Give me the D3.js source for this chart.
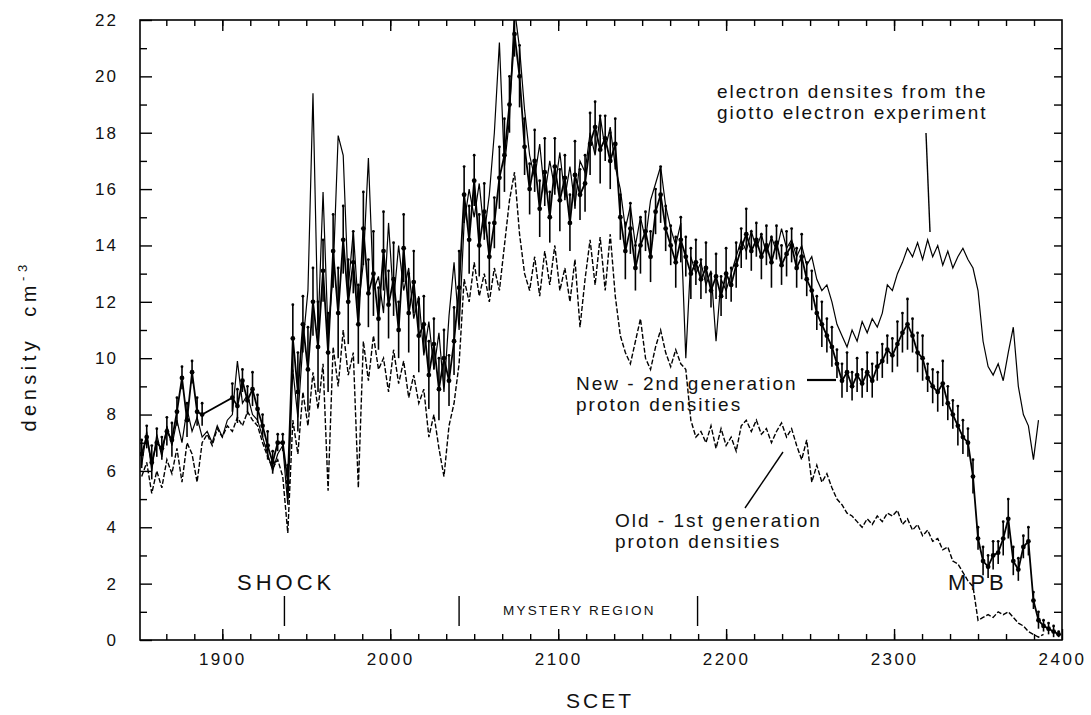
<!DOCTYPE html>
<html>
<head>
<meta charset="utf-8">
<script src="https://cdn.jsdelivr.net/npm/d3@7"></script>
<style>
  body { margin: 0; background: #fff; }
  svg text { font-family: "Liberation Sans", Arial, sans-serif; fill: #111; }
  .frame { fill: none; stroke: #000; stroke-width: 1.6px; }
  .tick line { stroke: #000; stroke-width: 1.4px; }
  .domain { display: none; }
</style>
</head>
<body>
<svg id="chart" width="1091" height="715"></svg>
<script>
var scetStart = 1852, scetStep = 3;

// electron densities (giotto electron experiment), thin solid line
var electron = [
  6.2, 7.4, 6.0, 7.3, 6.5, 7.6, 6.9, 7.8, 7.0, 8.2,
  7.4, 7.9, 7.2, 7.4, 7.0, 7.6, 7.2, 7.8, 8.0, 9.9,
  8.4, 8.7, 8.0, 7.8, 7.2, 6.6, 6.0, 6.6, 6.9, 4.8,
  9.6, 7.9, 10.5, 12.4, 19.4, 11.0, 15.9, 10.8, 13.0, 17.9,
  17.2, 12.5, 14.5, 11.8, 13.4, 17.1, 12.4, 12.9, 11.6, 14.8,
  12.0, 14.0, 12.4, 13.2, 11.4, 12.2, 10.1, 11.3, 9.6, 10.9,
  8.8, 11.5, 13.4, 11.0, 14.8, 16.0, 15.0, 16.2, 14.4, 15.8,
  18.0, 21.2, 16.8, 18.5, 22.4, 21.0, 18.8, 17.2, 16.4, 17.6,
  15.8, 17.0, 16.0, 17.3, 15.7, 16.8, 15.4, 17.0, 16.6, 18.0,
  17.2, 18.6, 17.4, 18.2, 16.8, 16.0, 14.6, 15.4, 14.0, 15.0,
  14.2, 15.6, 16.2, 16.8, 15.4, 14.6, 14.0, 14.8, 10.0, 13.6,
  13.0, 13.4, 12.6, 13.1, 10.6, 12.8, 12.4, 13.0, 13.6, 14.2,
  13.8, 14.5, 13.9, 14.4, 13.7, 14.3, 13.8, 14.6, 13.9, 14.2,
  13.6, 14.0, 13.3, 13.6, 12.8, 12.4, 12.6, 12.0, 11.2, 10.8,
  10.4, 11.0, 10.6, 11.3, 10.9, 11.4, 11.1, 11.6, 12.6, 12.4,
  13.0, 13.4, 13.9, 13.6, 14.1, 13.5, 14.2, 13.6, 14.0, 13.3,
  13.8, 13.2, 13.6, 13.9, 13.5, 13.2, 12.4, 10.6, 9.7, 9.4,
  9.8, 9.2, 10.2, 11.1, 9.0, 8.0, 7.6, 6.4, 7.8, null,
  null, null, null
];

// new - 2nd generation proton densities (dots + error bars), null = no data
var protonNew = [
  6.6, 7.2, 6.3, 7.0, 6.8, 7.4, 7.1, 8.1, 9.3, 7.8,
  9.5, 8.1, 8.0, null, null, null, null, null, 8.6, 8.3,
  9.2, 8.5, 8.9, 8.2, 7.6, 6.9, 6.3, 7.0, 7.0, 5.6,
  10.7, 8.8, 11.2, 9.6, 12.0, 10.4, 13.1, 10.2, 13.8, 11.6,
  14.2, 12.0, 13.4, 11.2, 14.6, 12.3, 13.0, 11.4, 13.8, 11.9,
  12.8, 11.0, 13.9, 11.6, 12.7, 10.8, 11.2, 9.4, 10.5, 8.9,
  10.0, 9.2, 10.6, 12.5, 15.8, 14.2, 16.3, 14.0, 15.2, 13.6,
  14.8, 16.4, 17.2, 19.0, 21.5, 20.0, 17.5, 16.0, 17.0, 15.3,
  16.6, 15.0, 16.8, 15.6, 16.4, 14.8, 16.5, 15.8, 16.2, 17.6,
  18.2, 17.4, 17.8, 17.0, 17.6, 15.0, 13.8, 14.6, 13.2, 14.0,
  14.5, 13.6, 15.2, 15.8, 14.6, 14.0, 13.4, 14.2, 13.6, 13.0,
  13.4, 12.8, 13.2, 12.4, 12.9, 12.2, 13.0, 12.6, 13.3, 13.9,
  14.4, 13.8, 14.2, 13.6, 14.0, 13.4, 14.1, 13.3, 13.7, 14.0,
  13.2, 13.6, 12.8, 12.4, 11.6, 11.2, 10.8, 10.4, 9.8, 9.2,
  9.5, 9.0, 9.4, 9.1, 9.5, 9.2, 9.7, 9.9, 10.3, 10.1,
  10.5, 10.9, 11.2, 10.8, 10.2, 10.0, 9.3, 9.0, 8.8, 9.1,
  8.4, 8.0, 7.6, 7.2, 7.0, 5.8, 3.6, 2.8, 2.6, 3.0,
  3.1, 3.6, 4.3, 2.8, 2.5, 3.3, 3.5, 1.4, 0.7, 0.5,
  0.4, 0.3, 0.2
];

// half height of the error bars on the new proton densities
var protonNewErr = [
  0.5, 0.4, 0.6, 0.5, 0.4, 0.5, 0.6, 0.5, 0.4, 0.6,
  0.4, 0.5, 0.4, null, null, null, null, null, 0.5, 0.6,
  0.4, 0.5, 0.6, 0.5, 0.4, 0.5, 0.4, 0.3, 0.3, 0.6,
  1.2, 1.4, 1.0, 1.5, 1.2, 1.6, 1.1, 1.4, 1.3, 1.6,
  1.2, 1.5, 1.1, 1.4, 1.3, 1.2, 1.5, 1.1, 1.4, 1.2,
  1.3, 1.0, 1.2, 1.4, 1.1, 1.3, 1.0, 1.2, 0.9, 1.1,
  1.0, 0.9, 1.2, 1.3, 1.0, 1.2, 0.9, 1.1, 1.0, 1.2,
  0.9, 1.1, 1.3, 1.0, 0.8, 1.1, 1.0, 0.9, 1.1, 1.0,
  1.2, 0.9, 1.0, 1.1, 0.8, 1.0, 1.2, 0.9, 1.0, 1.1,
  0.9, 1.2, 0.8, 1.0, 0.9, 0.8, 1.0, 0.9, 0.8, 1.0,
  0.7, 0.9, 0.8, 1.0, 0.8, 0.7, 0.9, 0.8, 0.7, 0.9,
  0.8, 0.7, 0.9, 0.6, 0.8, 0.7, 0.9, 0.6, 0.8, 0.7,
  0.9, 0.7, 0.6, 0.8, 0.7, 0.9, 0.6, 0.7, 0.8, 0.6,
  0.7, 0.8, 0.6, 0.7, 0.6, 0.8, 0.6, 0.7, 0.5, 0.6,
  0.7, 0.5, 0.6, 0.5, 0.7, 0.6, 0.5, 0.6, 0.5, 0.6,
  0.8, 0.7, 0.9, 0.6, 0.7, 0.8, 0.5, 0.6, 0.7, 0.8,
  0.6, 0.5, 0.7, 0.6, 0.5, 0.6, 0.4, 0.5, 0.4, 0.5,
  0.4, 0.6, 0.7, 0.5, 0.4, 0.4, 0.5, 0.3, 0.3, 0.2,
  0.2, 0.2, 0.1
];

// old - 1st generation proton densities, dashed line
var protonOld = [
  5.8, 6.3, 5.2, 6.0, 5.4, 6.4, 5.9, 6.8, 5.6, 7.0,
  6.6, 5.6, 7.0, 7.3, 6.9, 7.5, 7.2, 7.6, 7.4, 7.9,
  7.6, 8.1, 7.8, 7.6, 7.0, 6.5, 6.1, 6.4, 5.8, 3.8,
  7.8, 6.6, 8.8, 7.6, 9.5, 8.2, 9.8, 5.3, 10.4, 9.0,
  11.0, 9.4, 10.2, 5.4, 10.6, 9.2, 10.8, 9.6, 10.0, 8.8,
  10.3, 9.1, 9.9, 8.6, 9.4, 8.4, 8.9, 7.2, 8.0, 6.8,
  5.8, 7.6, 8.4, 9.8, 12.8, 12.0, 13.4, 12.2, 13.0, 12.0,
  13.2, 12.4, 14.0, 15.6, 16.6, 14.4, 13.0, 12.4, 13.6, 12.2,
  13.8, 12.6, 14.0, 12.4, 13.2, 12.0, 13.5, 11.1, 12.8, 14.2,
  12.6, 14.3, 12.4, 14.4, 12.2, 10.8, 10.2, 9.8, 10.6, 11.4,
  10.0, 9.6, 10.4, 11.0, 10.2, 9.7, 10.3, 9.8, 9.6, 7.8,
  7.2, 7.4, 7.0, 7.6, 6.8, 7.5, 6.9, 7.2, 6.7, 7.6,
  7.8, 7.4, 7.8, 7.3, 7.5, 7.0, 7.4, 7.7, 7.2, 7.5,
  6.9, 6.4, 7.1, 5.6, 6.2, 5.6, 5.9, 5.4, 5.0, 4.8,
  4.5, 4.4, 4.2, 4.0, 4.3, 4.1, 4.4, 4.2, 4.5, 4.4,
  4.6, 4.1, 4.3, 3.9, 4.1, 3.7, 3.9, 3.5, 3.6, 3.2,
  3.3, 2.8, 2.7, 2.4, 2.1, 1.9, 0.7, 0.8, 0.9, 0.8,
  1.0, 0.9, 1.0, 0.8, 0.6, 0.5, 0.3, 0.2, 0.1, 0.2,
  null, null, null
];

var xTickLabels = [1900, 2000, 2100, 2200, 2300, 2400];
var yTickLabels = [0, 2, 4, 6, 8, 10, 12, 14, 16, 18, 20, 22];
var regionBounds = [1937, 2041, 2183];   // shock / mystery region markers

var plotL = 140, plotR = 1062, plotT = 20, plotB = 640;

var svg = d3.select("#chart");

var x = d3.scaleLinear().domain([1851, 2400]).range([plotL, plotR]);
var y = d3.scaleLinear().domain([0, 22]).range([plotB, plotT]);

function toPoints(vals, errs) {
  return vals.map(function (v, i) {
    return { t: scetStart + i * scetStep, v: v, e: errs ? errs[i] : 0 };
  }).filter(function (d) { return d.v !== null; });
}

svg.append("defs").append("clipPath").attr("id", "plotClip")
  .append("rect").attr("x", plotL).attr("y", plotT)
  .attr("width", plotR - plotL).attr("height", plotB - plotT);

var line = d3.line()
  .x(function (d) { return x(d.t); })
  .y(function (d) { return y(d.v); });

var plot = svg.append("g").attr("clip-path", "url(#plotClip)");

// old protons - dashed
plot.append("path")
  .datum(toPoints(protonOld))
  .attr("d", line)
  .attr("fill", "none")
  .attr("stroke", "#000")
  .attr("stroke-width", 1.4)
  .attr("stroke-dasharray", "5,2");

// electrons - thin solid
plot.append("path")
  .datum(toPoints(electron))
  .attr("d", line)
  .attr("fill", "none")
  .attr("stroke", "#000")
  .attr("stroke-width", 1.2);

// new protons - line, error bars and dots
var newPts = toPoints(protonNew, protonNewErr);
plot.append("path")
  .datum(newPts)
  .attr("d", line)
  .attr("fill", "none")
  .attr("stroke", "#000")
  .attr("stroke-width", 1.8);

plot.selectAll(".errBar")
  .data(newPts)
  .enter().append("line")
  .attr("class", "errBar")
  .attr("x1", function (d) { return x(d.t); })
  .attr("x2", function (d) { return x(d.t); })
  .attr("y1", function (d) { return y(d.v - d.e); })
  .attr("y2", function (d) { return y(d.v + d.e); })
  .attr("stroke", "#000")
  .attr("stroke-width", 1.6);

plot.selectAll(".errCap")
  .data(newPts)
  .enter().append("circle")
  .attr("class", "errCap")
  .attr("cx", function (d) { return x(d.t); })
  .attr("cy", function (d) { return y(d.v + d.e); })
  .attr("r", 1.4)
  .attr("fill", "#000");

plot.selectAll(".dot")
  .data(newPts)
  .enter().append("circle")
  .attr("class", "dot")
  .attr("cx", function (d) { return x(d.t); })
  .attr("cy", function (d) { return y(d.v); })
  .attr("r", 2.4)
  .attr("fill", "#000");

// axes: ticks all point inwards
var minorX = d3.range(1, 33).map(function (k) { return 1850 + k * 100 / 6; });
var minorY = d3.range(1, 22, 2);
var allY = d3.range(1, 22);

function clean(g) {
  g.attr("font-family", null).attr("font-size", null);
}

svg.append("g").attr("transform", "translate(0," + plotB + ")")
  .call(d3.axisBottom(x).tickValues(minorX).tickSize(-6).tickFormat(""))
  .call(clean);
svg.append("g").attr("transform", "translate(0," + plotB + ")")
  .call(d3.axisBottom(x).tickValues(xTickLabels).tickSize(-11).tickPadding(13).tickFormat(d3.format("d")))
  .call(clean)
  .selectAll("text").style("font-size", "17px").attr("letter-spacing", 2.5);

svg.append("g").attr("transform", "translate(0," + plotT + ")")
  .call(d3.axisTop(x).tickValues(minorX).tickSize(-6).tickFormat(""))
  .call(clean);
svg.append("g").attr("transform", "translate(0," + plotT + ")")
  .call(d3.axisTop(x).tickValues(xTickLabels.slice(0, 5)).tickSize(-11).tickFormat(""))
  .call(clean);

svg.append("g").attr("transform", "translate(" + plotL + ",0)")
  .call(d3.axisLeft(y).tickValues(minorY).tickSize(-7).tickFormat(""))
  .call(clean);
svg.append("g").attr("transform", "translate(" + plotL + ",0)")
  .call(d3.axisLeft(y).tickValues(yTickLabels).tickSize(-12).tickPadding(22))
  .call(clean)
  .selectAll("text").style("font-size", "17px").attr("letter-spacing", 2);

svg.append("g").attr("transform", "translate(" + plotR + ",0)")
  .call(d3.axisRight(y).tickValues(allY).tickSize(-8).tickFormat(""))
  .call(clean);

svg.append("rect").attr("class", "frame")
  .attr("x", plotL).attr("y", plotT)
  .attr("width", plotR - plotL).attr("height", plotB - plotT);

// axis titles
svg.append("text")
  .attr("x", 600).attr("y", 708)
  .attr("text-anchor", "middle")
  .attr("letter-spacing", 3)
  .style("font-size", "21px")
  .text("SCET");

var yTitle = svg.append("text")
  .attr("transform", "translate(36,346) rotate(-90)")
  .attr("text-anchor", "middle")
  .attr("letter-spacing", 4.5)
  .style("font-size", "20px")
  .style("white-space", "pre");
yTitle.append("tspan").text("density  cm");
yTitle.append("tspan").attr("dy", -9).style("font-size", "13px").text("-3");

// region markers
svg.selectAll(".region")
  .data(regionBounds)
  .enter().append("line")
  .attr("x1", function (d) { return x(d); })
  .attr("x2", function (d) { return x(d); })
  .attr("y1", 596).attr("y2", 626)
  .attr("stroke", "#000").attr("stroke-width", 1.4);

svg.append("text").attr("x", 237).attr("y", 590)
  .attr("letter-spacing", 4).style("font-size", "22px").text("SHOCK");
svg.append("text").attr("x", 503).attr("y", 615)
  .attr("letter-spacing", 2.2).style("font-size", "13.5px").text("MYSTERY REGION");
svg.append("text").attr("x", 948).attr("y", 590)
  .attr("letter-spacing", 4).style("font-size", "22px").text("MPB");

// curve annotations
function label(x0, y0, lines) {
  var t = svg.append("text").attr("x", x0).attr("y", y0)
    .attr("letter-spacing", 2).style("font-size", "19px");
  lines.forEach(function (s, i) {
    t.append("tspan").attr("x", x0).attr("dy", i ? 21 : 0).text(s);
  });
}
label(717, 98, ["electron densites from the", "giotto electron experiment"]);
label(576, 390, ["New - 2nd generation", "proton densities"]);
label(615, 527, ["Old - 1st generation", "proton densities"]);

var leaders = [
  [926, 133, 930, 232],
  [807, 380, 836, 380],
  [745, 508, 783, 452]
];
svg.selectAll(".leader")
  .data(leaders)
  .enter().append("line")
  .attr("x1", function (d) { return d[0]; })
  .attr("y1", function (d) { return d[1]; })
  .attr("x2", function (d) { return d[2]; })
  .attr("y2", function (d) { return d[3]; })
  .attr("stroke", "#000")
  .attr("stroke-width", function (d, i) { return i === 1 ? 2.2 : 1.4; });
</script>
</body>
</html>
